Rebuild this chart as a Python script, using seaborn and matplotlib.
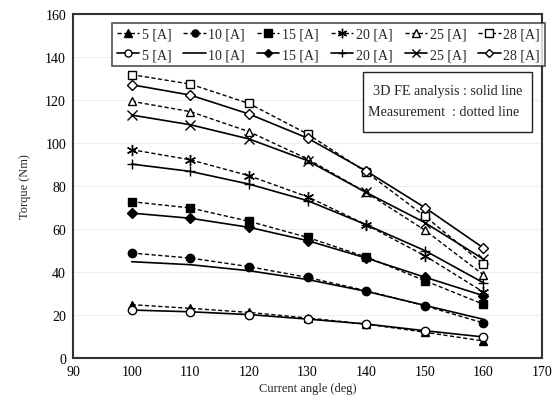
import matplotlib
matplotlib.use("Agg")
import matplotlib.pyplot as plt
import seaborn as sns
import numpy as np
import pandas as pd
from matplotlib.patches import Rectangle

sns.set_style("white")
plt.rcParams['font.family'] = ['Liberation Serif', 'DejaVu Serif']

angles = [100, 110, 120, 130, 140, 150, 160]
currents = ["5 [A]", "10 [A]", "15 [A]", "20 [A]", "25 [A]", "28 [A]"]

# Measurement (dotted line)
meas_5 = [24.8, 23.1, 21.2, 18.6, 15.8, 12.0, 7.9]
meas_10 = [48.8, 46.5, 42.5, 37.5, 31.3, 24.3, 16.3]
meas_15 = [72.7, 69.8, 63.6, 56.1, 47.0, 36.0, 25.0]
meas_20 = [96.9, 92.2, 84.8, 75.0, 62.0, 47.6, 30.7]
meas_25 = [119.4, 114.6, 105.3, 92.6, 77.0, 59.5, 38.7]
meas_28 = [131.8, 127.4, 118.4, 104.2, 86.5, 66.0, 43.7]

# 3D FE analysis (solid line)
fe_5 = [22.3, 21.5, 20.2, 18.1, 15.8, 12.7, 9.8]
fe_10 = [44.8, 43.4, 40.6, 36.5, 31.0, 24.5, 18.0]
fe_15 = [67.4, 65.0, 60.8, 54.6, 46.5, 37.6, 29.0]
fe_20 = [90.2, 86.8, 80.9, 73.2, 62.0, 50.0, 35.0]
fe_25 = [113.0, 108.5, 101.9, 91.8, 77.0, 63.0, 46.0]
fe_28 = [127.1, 122.3, 113.5, 102.3, 87.0, 70.0, 51.2]

meas = [meas_5, meas_10, meas_15, meas_20, meas_25, meas_28]
fe = [fe_5, fe_10, fe_15, fe_20, fe_25, fe_28]

ASTER = (6, 2, 0)
meas_style = [("^", "k"), ("o", "k"), ("s", "k"), (ASTER, "k"), ("^", "w"), ("s", "w")]
fe_style = [("o", "w"), (None, "k"), ("D", "k"), ("+", "k"), ("x", "k"), ("D", "w")]

def msize(m):
    if m == "D":
        return 5
    if m == ASTER:
        return 8
    if m in ("+", "x"):
        return 7
    return 6

fig = plt.figure(figsize=(5.56, 4.02), dpi=100)
ax = fig.add_axes([73/556, 1-359/402, (542-73)/556, (359-15)/402])

handles = []
for i in range(6):
    m, fc = meas_style[i]
    df = pd.DataFrame({"angle": angles, "torque": meas[i]})
    sns.lineplot(data=df, x="angle", y="torque", ax=ax, color="k", lw=1.0,
                 linestyle=(0, (3, 1.8)), marker=m, markersize=msize(m),
                 markerfacecolor=fc, markeredgecolor="k", markeredgewidth=1.0)
    hm = ax.get_lines()[-1]
    m2, fc2 = fe_style[i]
    df2 = pd.DataFrame({"angle": angles, "torque": fe[i]})
    kw = {}
    if m2 is not None:
        kw = dict(marker=m2, markersize=msize(m2),
                  markerfacecolor=fc2, markeredgecolor="k", markeredgewidth=1.0)
    sns.lineplot(data=df2, x="angle", y="torque", ax=ax, color="k", lw=1.2,
                 linestyle="-", **kw)
    hf = ax.get_lines()[-1]
    handles += [hm, hf]

labels = []
for c in currents:
    labels += [c, c]

ax.set_xlim(90, 170)
ax.set_ylim(0, 160)
ax.set_xticks(range(90, 171, 10))
ax.set_yticks(range(0, 161, 20))
ax.tick_params(direction="in", length=3, width=1, labelsize=10, colors="k", pad=5)
ax.yaxis.grid(True, color="#eeeeee", lw=0.8)
ax.set_axisbelow(True)
for s in ax.spines.values():
    s.set_color("#333333")
    s.set_linewidth(1.5)
ax.set_xlabel("Current angle (deg)", fontsize=9, labelpad=3)
ax.set_ylabel("Torque (Nm)", fontsize=9, labelpad=10)

leg = ax.legend(handles, labels, ncol=6, loc="lower left", mode="expand",
                bbox_to_anchor=(0.083, 0.849, 0.923, 0.136), fontsize=10,
                handlelength=1.6, handletextpad=0.2, columnspacing=0.6,
                borderpad=0.35, labelspacing=0.55, frameon=True, fancybox=False,
                borderaxespad=0, markerscale=0.85)
leg.get_frame().set_edgecolor("#222222")
leg.get_frame().set_linewidth(1.2)

ax.add_patch(Rectangle((0.618, 0.657), 0.361, 0.174, transform=ax.transAxes,
                       facecolor="white", edgecolor="#222222", lw=1.0, zorder=5))
ax.text(0.639, 0.779, "3D FE analysis : solid line", transform=ax.transAxes,
        fontsize=10.2, va="center", ha="left", zorder=6)
ax.text(0.629, 0.718, "Measurement  : dotted line", transform=ax.transAxes,
        fontsize=10.2, va="center", ha="left", zorder=6)

fig.savefig("out.png", dpi=100, facecolor="white")
